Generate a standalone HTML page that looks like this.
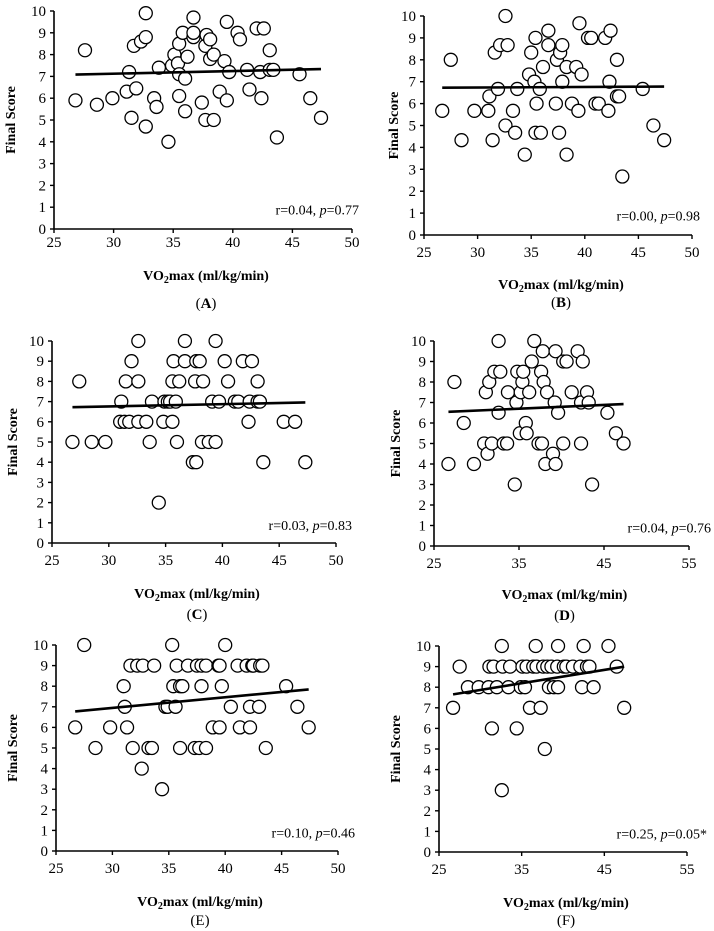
<!DOCTYPE html>
<html>
<head>
<meta charset="utf-8">
<style>
html,body{margin:0;padding:0;background:#fff;}
svg{display:block;}
text{font-family:"Liberation Serif",serif;fill:#000;}
</style>
</head>
<body>
<svg id="fig" width="714" height="931" viewBox="0 0 714 931" xmlns="http://www.w3.org/2000/svg"></svg>
<script>
// Panel A
const xA = [26.8,27.6,28.6,29.9,31.1,31.3,31.5,31.7,31.9,32.3,32.7,32.7,32.7,33.4,33.6,33.8,34.6,34.9,35.1,35.4,35.5,35.5,35.5,35.8,36.0,36.0,36.2,36.7,36.7,36.7,37.4,37.7,37.7,37.8,38.1,38.1,38.4,38.4,38.9,39.3,39.5,39.5,39.7,40.4,40.6,41.2,41.4,42.0,42.3,42.4,42.6,43.1,43.1,43.4,43.7,45.6,46.5,47.4];
const yA = [5.9,8.2,5.7,6.0,6.3,7.2,5.1,8.4,6.45,8.6,8.8,9.9,4.7,6.0,5.6,7.4,4.0,7.5,8.0,7.6,7.1,8.5,6.1,9.0,6.9,5.4,7.9,9.7,8.8,9.0,5.8,8.4,5.0,8.9,8.7,7.8,5.0,8.0,6.3,7.7,5.9,9.5,7.2,9.0,8.7,7.3,6.4,9.2,7.2,6.0,9.2,8.2,7.3,7.3,4.2,7.1,6.0,5.1];
// Panel B
const xB = [26.7,27.5,28.5,29.7,31.0,31.1,31.4,31.6,31.9,32.1,32.6,32.6,32.8,33.3,33.5,33.7,34.4,34.8,35.0,35.3,35.4,35.5,35.4,35.8,35.9,36.1,36.6,36.6,37.3,37.4,37.6,37.7,37.9,37.9,38.3,38.3,38.8,39.2,39.4,39.5,39.7,40.3,40.6,41.0,41.3,41.9,42.2,42.3,42.4,43.0,43.0,43.2,43.5,45.4,46.4,47.4];
const yB = [5.67,8.0,4.33,5.67,5.67,6.33,4.33,8.33,6.67,8.67,5.0,10.0,8.67,5.67,4.67,6.67,3.67,7.33,8.33,7.0,4.67,6.0,9.0,6.67,4.67,7.67,9.33,8.67,6.0,8.0,4.67,8.33,8.67,7.0,3.67,7.67,6.0,7.67,5.67,9.67,7.33,9.0,9.0,6.0,6.0,9.0,5.67,7.0,9.33,8.0,6.33,6.33,2.67,6.67,5.0,4.33];
// Panel C
const xC = [26.8,27.4,28.5,29.7,31.1,31.0,31.4,31.5,31.8,32.0,32.6,32.6,32.6,33.3,33.6,33.8,34.4,34.8,34.9,35.2,35.4,35.6,35.6,35.7,35.9,36.0,36.2,36.7,36.7,37.4,37.7,37.6,37.7,38.0,38.2,38.3,38.8,39.1,39.4,39.4,39.7,40.2,40.5,41.1,41.4,41.8,42.3,42.4,42.6,43.1,43.1,43.3,43.6,45.4,46.4,47.3];
const yC = [5,8,5,5,7,6,6,8,6,9,6,8,10,6,5,7,2,6,7,7,7,8,6,9,7,5,8,9,10,4,4,8,9,9,5,8,5,7,5,10,7,9,8,7,7,9,6,7,9,8,7,7,4,6,6,4];
// Panel D
const xD = [26.7,27.4,28.5,29.7,30.9,31.1,31.3,31.5,31.8,32.1,32.6,32.6,32.8,33.2,33.6,33.7,34.5,34.7,34.8,35.1,35.2,35.4,35.5,35.8,35.9,36.2,36.5,36.8,37.3,37.7,37.8,37.6,37.9,38.1,38.3,39.0,39.2,39.3,39.3,39.6,40.2,40.6,40.2,42.3,41.2,41.9,42.3,42.5,43.0,43.2,43.6,45.4,46.4,47.3];
const yD = [4,8,6,4,5,7.5,4.5,8,5,8.5,10,6.5,8.5,5,5,7.5,3,7,8.5,5.5,7.5,8,8.5,6,5.5,7.5,9,10,5,5,9.5,8.5,8,4,7.5,4.5,7,4,9.5,6.5,9,9,5,5,7.5,9.5,7,9,7.5,7,3,6.5,5.5,5];
// Panel E
const xE = [26.7,27.5,28.5,29.8,31.0,31.1,31.3,31.6,31.8,32.2,32.6,32.7,33.2,33.5,33.7,34.4,34.7,34.9,35.3,35.4,35.6,35.7,36.0,36.0,36.2,36.7,37.3,37.5,37.7,37.9,37.9,38.3,38.3,38.9,39.4,39.5,39.5,39.7,40.0,40.5,41.1,41.3,41.9,42.2,42.2,42.4,42.5,43.0,43.1,43.3,43.6,45.4,46.4,47.4];
const yE = [6,10,5,6,8,7,6,9,5,9,4,9,5,5,9,3,7,7,10,8,7,9,5,8,8,9,5,9,5,9,8,5,9,6,9,9,6,8,10,7,9,6,9,6,7,9,9,7,9,9,5,8,7,6];
// Panel F
const xF = [26.7,27.5,28.5,29.8,31.0,31.1,31.4,31.6,32.0,32.6,32.6,32.7,33.4,33.6,34.4,34.9,35.1,35.4,35.6,36.0,36.4,36.7,36.8,37.3,37.6,37.8,38.1,38.3,38.6,38.9,39.3,39.4,39.4,40.1,40.4,41.2,42.1,42.3,42.5,42.9,43.2,43.7,45.5,46.5,47.4];
const yF = [7,9,8,8,8,9,6,9,8,10,3,9,8,9,6,8,9,8,9,7,9,10,9,7,9,5,9,8,9,8,9,8,10,9,9,9,9,8,10,9,9,8,10,9,7];

const ticksY = [0,1,2,3,4,5,6,7,8,9,10];
const ticksX50 = [25,30,35,40,45,50];
const ticksX55 = [25,35,45,55];
const statLabels = [["r=0.04, ","p","=0.77"],["r=0.00, ","p","=0.98"],["r=0.03, ","p","=0.83"],["r=0.04, ","p","=0.76"],["r=0.10, ","p","=0.46"],["r=0.25, ","p","=0.05*"]];
const panelLetters = ["A","B","C","D","E","F"];

const NS = "http://www.w3.org/2000/svg";
const svg = document.getElementById("fig");
function mk(tag, attrs, parent){
  const e = document.createElementNS(NS, tag);
  for (const k in attrs) e.setAttribute(k, attrs[k]);
  (parent||svg).appendChild(e);
  return e;
}

const panels = [
  {xs:xA, ys:yA, x0:54, x1:352, xmax:50, ticks:ticksX50, yb:229, yt:11, yTitleX:10, tickLab:242, xTitle:275, lab:303, statRight:359, bold:true},
  {xs:xB, ys:yB, x0:424, x1:692, xmax:50, ticks:ticksX50, yb:235, yt:16, yTitleX:393, tickLab:252, xTitle:284, lab:302, statRight:700, bold:true},
  {xs:xC, ys:yC, x0:52, x1:336, xmax:50, ticks:ticksX50, yb:543, yt:341, yTitleX:12, tickLab:560, xTitle:593, lab:614, statRight:352, bold:true},
  {xs:xD, ys:yD, x0:434, x1:689, xmax:55, ticks:ticksX55, yb:546, yt:341, yTitleX:395, tickLab:563, xTitle:594, lab:615, statRight:711, bold:true},
  {xs:xE, ys:yE, x0:56, x1:338, xmax:50, ticks:ticksX50, yb:851, yt:645, yTitleX:12, tickLab:868, xTitle:901, lab:920, statRight:355, bold:false},
  {xs:xF, ys:yF, x0:439, x1:687, xmax:55, ticks:ticksX55, yb:852, yt:646, yTitleX:395, tickLab:869, xTitle:902, lab:920, statRight:707, bold:false}
];

panels.forEach((p, i) => {
  const L = panelLetters[i].toLowerCase();
  const g = mk("g", {});
  
  
  const sx = v => p.x0 + (v - 25) / (p.xmax - 25) * (p.x1 - p.x0);
  const sy = v => p.yb - v / 10 * (p.yb - p.yt);

  const ya = mk("line", {x1:p.x0, y1:p.yt, x2:p.x0, y2:p.yb, stroke:"#000", "stroke-width":1.6}, g);
  
  
  const xa = mk("line", {x1:p.x0, y1:p.yb, x2:p.x1, y2:p.yb, stroke:"#000", "stroke-width":1.6}, g);
  
  

  ticksY.forEach(t => {
    const y = sy(t);
    const tk = mk("line", {x1:p.x0-4, y1:y, x2:p.x0, y2:y, stroke:"#000", "stroke-width":1.4}, g);
    
    
    const tl = mk("text", {x:p.x0-8, y:y+5, "text-anchor":"end", "font-size":15}, g);
    tl.textContent = t;
    
    
  });
  p.ticks.forEach(t => {
    const x = sx(t);
    const tk = mk("line", {x1:x, y1:p.yb, x2:x, y2:p.yb+4, stroke:"#000", "stroke-width":1.4}, g);
    
    
    const tl = mk("text", {x:x, y:p.tickLab+5, "text-anchor":"middle", "font-size":15}, g);
    tl.textContent = t;
    
    
  });

  p.xs.forEach((xv, k) => {
    const c = mk("circle", {cx:sx(xv), cy:sy(p.ys[k]), r:6.5, fill:"#fff", stroke:"#000", "stroke-width":1.3}, g);
    
    
  });

  const n = p.xs.length;
  let mx = 0, my = 0;
  for (let k = 0; k < n; k++) { mx += p.xs[k]; my += p.ys[k]; }
  mx /= n; my /= n;
  let sxy = 0, sxx = 0;
  for (let k = 0; k < n; k++) { sxy += (p.xs[k]-mx)*(p.ys[k]-my); sxx += (p.xs[k]-mx)**2; }
  const b = sxy / sxx, a = my - b * mx;
  const xmin = Math.min(...p.xs), xmaxD = Math.max(...p.xs);
  const ln = mk("line", {x1:sx(xmin), y1:sy(a+b*xmin), x2:sx(xmaxD), y2:sy(a+b*xmaxD), stroke:"#000", "stroke-width":2.6}, g);
  
  

  const st = mk("text", {x:p.statRight, y:sy(0.9)+5, "text-anchor":"end", "font-size":14}, g);
  
  
  const s = statLabels[i];
  const t1 = mk("tspan", {}, st); t1.textContent = s[0];
  const t2 = mk("tspan", {"font-style":"italic"}, st); t2.textContent = s[1];
  const t3 = mk("tspan", {}, st); t3.textContent = s[2];

  const cy = (p.yt + p.yb) / 2;
  const yt = mk("text", {x:p.yTitleX, y:cy, "text-anchor":"middle", "font-size":14, "font-weight":"bold", transform:"rotate(-90 "+(p.yTitleX)+" "+cy+")", dy:"5"}, g);
  yt.textContent = "Final Score";
  
  

  const cx = (p.x0 + p.x1) / 2 + 3;
  const xt = mk("text", {x:cx, y:p.xTitle+5, "text-anchor":"middle", "font-size":14, "font-weight":"bold"}, g);
  
  
  const a1 = mk("tspan", {}, xt); a1.textContent = "VO";
  const a2 = mk("tspan", {"font-size":10, dy:"3"}, xt); a2.textContent = "2";
  const a3 = mk("tspan", {dy:"-3"}, xt); a3.textContent = "max (ml/kg/min)";

  const pl = mk("text", {x:cx, y:p.lab+5, "text-anchor":"middle", "font-size":15}, g);
  
  
  const b1 = mk("tspan", {}, pl); b1.textContent = "(";
  const b2 = mk("tspan", p.bold ? {"font-weight":"bold"} : {}, pl); b2.textContent = panelLetters[i];
  const b3 = mk("tspan", {}, pl); b3.textContent = ")";
});
</script>
</body>
</html>
